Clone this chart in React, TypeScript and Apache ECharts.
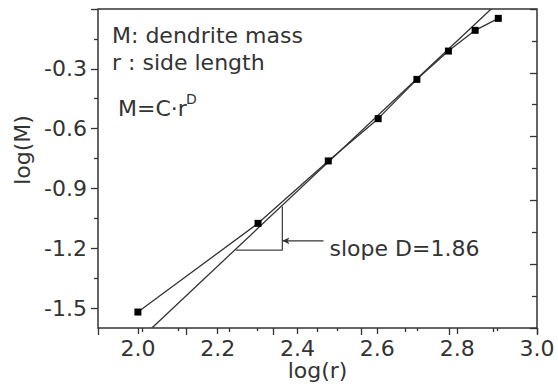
import React, { useEffect, useRef } from 'react';
import * as echarts from 'echarts';

// measured points: log(r) vs log(M)
const logR = [2.0, 2.301, 2.477, 2.602, 2.699, 2.778, 2.845, 2.903];
const logM = [-1.52, -1.075, -0.762, -0.55, -0.353, -0.211, -0.107, -0.047];
// fitted line (slope D = 1.86)
const fitR = [2.035, 2.885];
const fitM = [-1.6, 0.0];
// slope triangle
const triR = [2.245, 2.362, 2.362];
const triM = [-1.209, -1.209, -0.99];
// arrow pointing to the triangle
const arrowR = [2.465, 2.362];
const arrowM = [-1.163, -1.163];
const slopeLabel = 'slope D=1.86';
const xTickLabels = ['2.0', '2.2', '2.4', '2.6', '2.8', '3.0'];
const yTickLabels = ['-0.3', '-0.6', '-0.9', '-1.2', '-1.5'];
const notes = ['M: dendrite mass', 'r : side length'];
const formula = 'M=C·r';
const formulaSup = 'D';

const FONT = 'DejaVu Sans';
const TXT = '#333';
const FS = 22;

export default function App() {
  const ref = useRef<HTMLDivElement>(null);
  useEffect(() => {
    if (!ref.current) return;
    const chart = echarts.init(ref.current, null, { renderer: 'svg' });
    const tickLine = { color: '#333', width: 1.3 };
    const hiddenAxis = {
      axisLine: { show: false },
      axisTick: { show: false },
      axisLabel: { show: false },
      splitLine: { show: false },
    };
    const textStyle = (size: number) => ({ font: `${size}px "${FONT}"`, fill: TXT, verticalAlign: 'middle', align: 'left' });
    const option: any = {
      animation: false,
      backgroundColor: '#fff',
      grid: [
        { left: 98, right: 21, top: 9, bottom: 63, show: true, borderColor: '#333', borderWidth: 1.5 },
        { left: 137.9, right: 21, top: 9, bottom: 63 },
        { left: 98, right: 21, top: 9, bottom: 82.94 },
      ],
      xAxis: [
        {
          gridIndex: 0, type: 'value', min: 1.9, max: 3.0, position: 'bottom', ...hiddenAxis,
          name: 'log(r)', nameLocation: 'middle', nameGap: 31,
          nameTextStyle: { fontFamily: FONT, fontSize: FS, color: TXT },
        },
        {
          gridIndex: 0, type: 'value', min: 0, max: 10, interval: 2, position: 'top',
          axisLine: { show: false },
          axisTick: { show: true, inside: true, length: 7, lineStyle: tickLine },
          minorTick: { show: true, splitNumber: 2, length: 4, lineStyle: tickLine },
          axisLabel: { show: false }, splitLine: { show: false },
        },
        {
          gridIndex: 1, type: 'value', min: 2.0, max: 3.0, interval: 0.2, position: 'bottom',
          axisLine: { show: false },
          axisTick: { show: true, length: 6, lineStyle: tickLine },
          minorTick: { show: true, splitNumber: 2, length: 3, lineStyle: tickLine },
          axisLabel: {
            show: true, margin: 9, fontFamily: FONT, fontSize: FS, color: TXT,
            formatter: (v: number) => {
              const s = v.toFixed(1);
              return xTickLabels.includes(s) ? s : '';
            },
          },
          splitLine: { show: false },
        },
        { gridIndex: 2, type: 'value', min: 0, max: 1, show: false },
      ],
      yAxis: [
        { gridIndex: 0, type: 'value', min: -1.6, max: 0, position: 'left', ...hiddenAxis },
        {
          gridIndex: 0, type: 'value', min: 0, max: 10, interval: 2, position: 'right',
          axisLine: { show: false },
          axisTick: { show: true, inside: true, length: 7, lineStyle: tickLine },
          minorTick: { show: true, splitNumber: 2, length: 5, lineStyle: tickLine },
          axisLabel: { show: false }, splitLine: { show: false },
        },
        { gridIndex: 1, type: 'value', min: 0, max: 1, show: false },
        {
          gridIndex: 2, type: 'value', min: -1.5, max: 0, interval: 0.3, position: 'left',
          axisLine: { show: false },
          axisTick: { show: true, length: 7, lineStyle: tickLine },
          minorTick: { show: true, splitNumber: 2, length: 4, lineStyle: tickLine },
          axisLabel: {
            show: true, margin: 11, fontFamily: FONT, fontSize: FS, color: TXT,
            formatter: (v: number) => {
              const s = v.toFixed(1);
              return yTickLabels.includes(s) ? s : '';
            },
          },
          splitLine: { show: false },
        },
      ],
      series: [
        {
          type: 'line', xAxisIndex: 0, yAxisIndex: 0,
          data: logR.map((r, i) => [r, logM[i]]),
          symbol: 'rect', symbolSize: 7,
          itemStyle: { color: '#000' },
          lineStyle: { color: '#333', width: 1.3 },
          z: 5,
        },
        {
          type: 'line', xAxisIndex: 0, yAxisIndex: 0,
          data: fitR.map((r, i) => [r, fitM[i]]),
          symbol: 'none',
          lineStyle: { color: '#333', width: 1.3 },
        },
        {
          type: 'line', xAxisIndex: 0, yAxisIndex: 0,
          data: triR.map((r, i) => [r, triM[i]]),
          symbol: 'none',
          lineStyle: { color: '#444', width: 1.3 },
        },
        {
          type: 'line', xAxisIndex: 0, yAxisIndex: 0,
          data: [
            { value: [arrowR[0], arrowM[0]], symbol: 'none' },
            { value: [arrowR[1], arrowM[1]], symbol: 'arrow', symbolRotate: 90, symbolSize: [5, 7] },
          ],
          itemStyle: { color: '#333' },
          lineStyle: { color: '#333', width: 1.3 },
        },
      ],
      graphic: [
        { type: 'text', x: 112, y: 35, style: { text: notes[0], ...textStyle(FS) } },
        { type: 'text', x: 112, y: 62, style: { text: notes[1], ...textStyle(FS) } },
        { type: 'text', x: 118, y: 108, style: { text: formula, ...textStyle(FS) } },
        { type: 'text', x: 186, y: 99, style: { text: formulaSup, ...textStyle(14) } },
        {
          type: 'text', x: 22, y: 150, rotation: Math.PI / 2,
          style: { ...textStyle(FS), text: 'log(M)', align: 'center' },
        },
      ],
    };
    chart.setOption(option);
    const pt = chart.convertToPixel({ gridIndex: 0 }, [arrowR[0], arrowM[0]]) as number[];
    chart.setOption({
      graphic: [
        ...option.graphic,
        { type: 'text', x: pt[0] + 6, y: pt[1] + 8, style: { text: slopeLabel, ...textStyle(FS) } },
      ],
    });
    return () => chart.dispose();
  }, []);
  return (
    <div
      ref={ref}
      style={{ position: 'fixed', left: 0, top: 0, width: 558, height: 391, background: '#fff' }}
    />
  );
}
